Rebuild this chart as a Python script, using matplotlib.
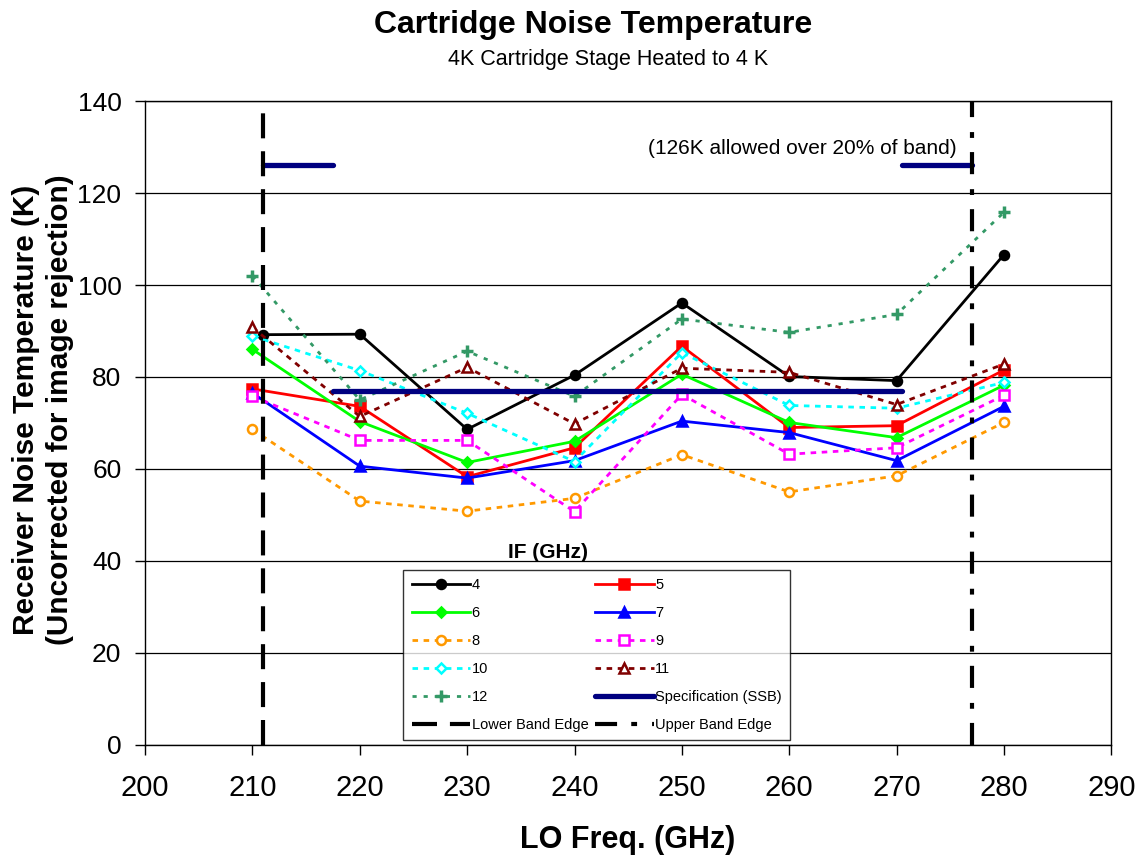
import numpy as np
import matplotlib
matplotlib.use('Agg')
import matplotlib.pyplot as plt

plt.rcParams['font.family'] = ['Liberation Sans', 'DejaVu Sans']

lo = [210, 220, 230, 240, 250, 260, 270, 280]
lo_4 = [211, 220, 230, 240, 250, 260, 270, 280]

if_4 = [89.2, 89.3, 68.6, 80.4, 96.1, 80.1, 79.2, 106.6]
if_5 = [77.4, 73.6, 58.3, 64.6, 86.7, 69.0, 69.4, 81.5]
if_6 = [86.0, 70.3, 61.4, 66.0, 80.6, 70.1, 66.8, 78.2]
if_7 = [76.5, 60.6, 58.0, 61.8, 70.4, 67.9, 61.8, 73.6]
if_8 = [68.6, 53.0, 50.8, 53.6, 63.1, 55.0, 58.5, 70.1]
if_9 = [75.8, 66.2, 66.2, 50.7, 76.2, 63.2, 64.6, 76.0]
if_10 = [88.9, 81.4, 72.1, 61.6, 85.3, 73.8, 73.2, 78.8]
if_11 = [90.8, 71.4, 82.1, 69.8, 81.9, 81.0, 74.0, 82.8]
if_12 = [102.0, 75.0, 85.6, 75.8, 92.6, 89.7, 93.6, 115.8]

spec_x = [211, 217.5, np.nan, 217.5, 270.5, np.nan, 270.5, 277]
spec_y = [126, 126, np.nan, 77, 77, np.nan, 126, 126]
lower_edge = 211
upper_edge = 277

fig = plt.figure(figsize=(11.38, 8.57), dpi=100)
ax = fig.add_axes([0.1275, 0.131, 0.849, 0.751])

dot = (0, (2, 2))
series = [
    ('4', lo_4, if_4, 'black', '-', 'o', 'black'),
    ('5', lo, if_5, 'red', '-', 's', 'red'),
    ('6', lo, if_6, '#00ff00', '-', 'D', '#00ff00'),
    ('7', lo, if_7, 'blue', '-', '^', 'blue'),
    ('8', lo, if_8, '#ff9900', dot, 'o', 'white'),
    ('9', lo, if_9, 'magenta', dot, 's', 'white'),
    ('10', lo, if_10, 'cyan', dot, 'D', 'white'),
    ('11', lo, if_11, '#800000', dot, '^', 'white'),
    ('12', lo, if_12, '#339966', (0, (1.5, 2.5)), '+', '#339966'),
]

handles = {}
for name, xs, ys, col, ls, mk, fc in series:
    ms = {'o': 6.5, 's': 6.5, 'D': 5.5, '^': 7, '+': 9}[mk]
    mew = 2.5 if mk == '+' else 1.8
    h, = ax.plot(xs, ys, color=col, linestyle=ls, linewidth=2, marker=mk,
                 markersize=ms, markerfacecolor=fc, markeredgecolor=col,
                 markeredgewidth=mew, label=name, zorder=3)
    handles[name] = h

h_spec, = ax.plot(spec_x, spec_y, color='#000080', linewidth=3.8,
                  solid_capstyle='round', label='Specification (SSB)', zorder=4)
h_low = ax.axvline(lower_edge, color='black', linewidth=3,
                   linestyle=(0, (6, 3.1)), label='Lower Band Edge', zorder=5)
h_up = ax.axvline(upper_edge, color='black', linewidth=3,
                  linestyle=(0, (5.3, 3.4, 1.4, 3.6)), label='Upper Band Edge', zorder=5)

ax.set_xlim(200, 290)
ax.set_ylim(0, 140)
ax.set_xticks(range(200, 291, 10))
ax.set_yticks(range(0, 141, 20))
ax.yaxis.grid(True, color='black', linewidth=0.9)
ax.set_axisbelow(True)
ax.tick_params(axis='both', direction='out', length=7, width=1)
ax.tick_params(axis='x', labelsize=21, pad=14)
ax.tick_params(axis='y', labelsize=19, pad=10)
for sp in ax.spines.values():
    sp.set_linewidth(1)

fig.text(628 / 1138, 1 - 840 / 857, 'LO Freq. (GHz)', ha='center', va='center',
         fontsize=22, fontweight='bold')
fig.text(43 / 1138, 1 - 410 / 857,
         'Receiver Noise Temperature (K)\n(Uncorrected for image rejection)',
         ha='center', va='center', rotation=90, fontsize=21.5, fontweight='bold',
         linespacing=1.25)

fig.text(593 / 1138, 1 - 25 / 857, 'Cartridge Noise Temperature', ha='center',
         va='center', fontsize=23, fontweight='bold')
fig.text(608 / 1138, 1 - 60 / 857, '4K Cartridge Stage Heated to 4 K', ha='center',
         va='center', fontsize=15.5)
ax.text(261.2, 129.6, '(126K allowed over 20% of band)', ha='center', va='center',
        fontsize=15)
ax.text(548 / 1138, 1 - 553 / 857, 'IF (GHz)', transform=fig.transFigure,
        ha='center', va='center', fontsize=15, fontweight='bold')

left_col = [handles['4'], handles['6'], handles['8'], handles['10'], handles['12'], h_low]
right_col = [handles['5'], handles['7'], handles['9'], handles['11'], h_spec, h_up]
leg = ax.legend(handles=left_col + right_col, ncol=2, loc='upper left',
                bbox_to_anchor=(0.267, 0.272, 0.401, 0.0), mode='expand',
                fontsize=10.5, frameon=True, fancybox=False, edgecolor='black',
                handlelength=4.0, handletextpad=0.1, borderaxespad=0,
                labelspacing=0.95, columnspacing=2.0, borderpad=0.6)
leg.get_frame().set_linewidth(1)

fig.savefig('out.png', dpi=100)
